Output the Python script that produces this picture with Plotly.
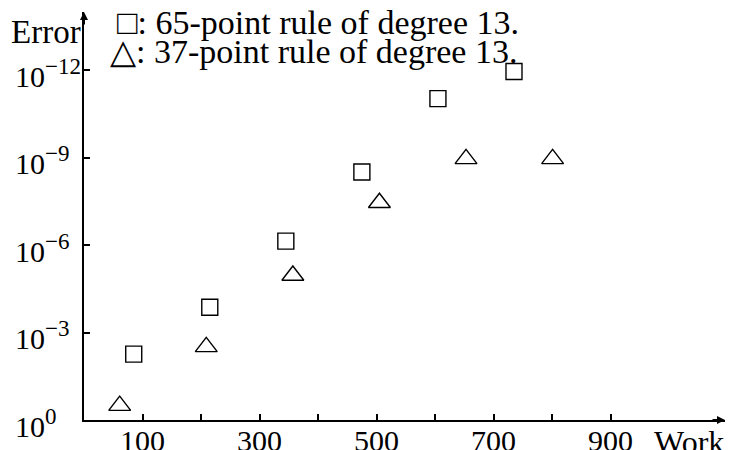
import math
import plotly.graph_objects as go

# Data
work_65 = [85, 215, 345, 475, 605, 735]
error_65 = [5.5e-3, 1.35e-4, 7.3e-7, 3.1e-9, 9.4e-12, 1.1e-12]
work_37 = [61, 209, 357, 505, 653, 801]
error_37 = [3.2e-1, 3.1e-3, 1.1e-5, 3.5e-8, 1.1e-9, 1.1e-9]

x_tick_vals = [100, 200, 300, 400, 500, 600, 700, 800, 900]
x_tick_text = ["100", "", "300", "", "500", "", "700", "", "900"]
y_tick_vals = [1, 1e-3, 1e-6, 1e-9, 1e-12]
y_tick_base = ["10", "10", "10", "10", "10"]
y_tick_exp = ["0", "\u22123", "\u22126", "\u22129", "\u221212"]

label_65 = "\u25a1: 65-point rule of degree 13."
label_37 = "\u25b3: 37-point rule of degree 13."
x_title = "Work"
y_title = "Error"

FONT = "Liberation Serif"
W, H = 730, 450
ML, MR, MT, MB = 84, 5, 12, 30

fig = go.Figure()
fig.add_trace(go.Scatter(
    x=work_65, y=error_65, mode="markers", name=label_65,
    marker=dict(symbol="square-open", size=16, color="#000",
                line=dict(width=1.4, color="#000")),
))
fig.add_trace(go.Scatter(
    x=work_37, y=error_37, mode="markers", name=label_37,
    marker=dict(symbol="triangle-up-open", size=19, color="#000",
                line=dict(width=1.4, color="#000")),
))

annotations = []
# y tick labels (left aligned, as in the reference)
for v, b, e in zip(y_tick_vals, y_tick_base, y_tick_exp):
    annotations.append(dict(
        x=0, xref="paper", y=math.log10(v), yref="y",
        text=f"{b}<sup><span style='font-size:23px'>{e}</span></sup>",
        showarrow=False, xanchor="left", yanchor="middle",
        xshift=13 - ML, yshift=-3,
        font=dict(family=FONT, size=30, color="#000"),
    ))
# x tick labels
for v, t in zip(x_tick_vals, x_tick_text):
    if t:
        annotations.append(dict(
            x=v, xref="x", y=0, yref="paper", text=t,
            showarrow=False, xanchor="center", yanchor="top",
            yshift=-3, borderpad=0,
            font=dict(family=FONT, size=30, color="#000"),
        ))

# axis arrows
annotations.append(dict(x=1, y=0, xref="paper", yref="paper", ax=-14, ay=0,
                        text="", showarrow=True, arrowhead=2, arrowsize=0.8,
                        arrowwidth=2, arrowcolor="#000"))
annotations.append(dict(x=0, y=1, xref="paper", yref="paper", ax=0, ay=14,
                        text="", showarrow=True, arrowhead=2, arrowsize=0.8,
                        arrowwidth=2, arrowcolor="#000"))

# axis titles
annotations.append(dict(x=1, y=0, xref="paper", yref="paper", text=x_title,
                        showarrow=False, xanchor="right", yanchor="top",
                        xshift=0, yshift=-3, borderpad=0,
                        font=dict(family=FONT, size=32, color="#000")))
annotations.append(dict(x=0, y=1, xref="paper", yref="paper", text=y_title,
                        showarrow=False, xanchor="right", yanchor="middle",
                        xshift=-1, yshift=-20,
                        font=dict(family=FONT, size=33, color="#000")))

# legend text
annotations.append(dict(x=0, y=1, xref="paper", yref="paper", text=label_65,
                        showarrow=False, xanchor="left", yanchor="middle",
                        xshift=116 - ML, yshift=-10, borderpad=0,
                        font=dict(family=FONT, size=34, color="#000")))
annotations.append(dict(x=0, y=1, xref="paper", yref="paper", text=label_37,
                        showarrow=False, xanchor="left", yanchor="middle",
                        xshift=109 - ML, yshift=-39, borderpad=0,
                        font=dict(family=FONT, size=34, color="#000")))

fig.update_layout(
    width=W, height=H,
    margin=dict(l=ML, r=MR, t=MT, b=MB, pad=0, autoexpand=False),
    paper_bgcolor="#fff", plot_bgcolor="#fff",
    showlegend=False,
    annotations=annotations,
    xaxis=dict(
        range=[0, 1095.7], showgrid=False, zeroline=False, automargin=False,
        showline=True, linecolor="#000", linewidth=2,
        ticks="inside", ticklen=6, tickwidth=2, tickcolor="#000",
        tickvals=x_tick_vals, ticktext=[""] * len(x_tick_vals),
    ),
    yaxis=dict(
        type="log", range=[0, -14], showgrid=False, zeroline=False,
        automargin=False,
        showline=True, linecolor="#000", linewidth=2,
        ticks="inside", ticklen=6, tickwidth=2, tickcolor="#000",
        tickvals=y_tick_vals, ticktext=[""] * len(y_tick_vals),
    ),
)

fig.write_html(
    "out.html",
    config={"displayModeBar": False},
    post_script="document.body.style.margin='0';document.body.style.overflow='hidden';",
)
